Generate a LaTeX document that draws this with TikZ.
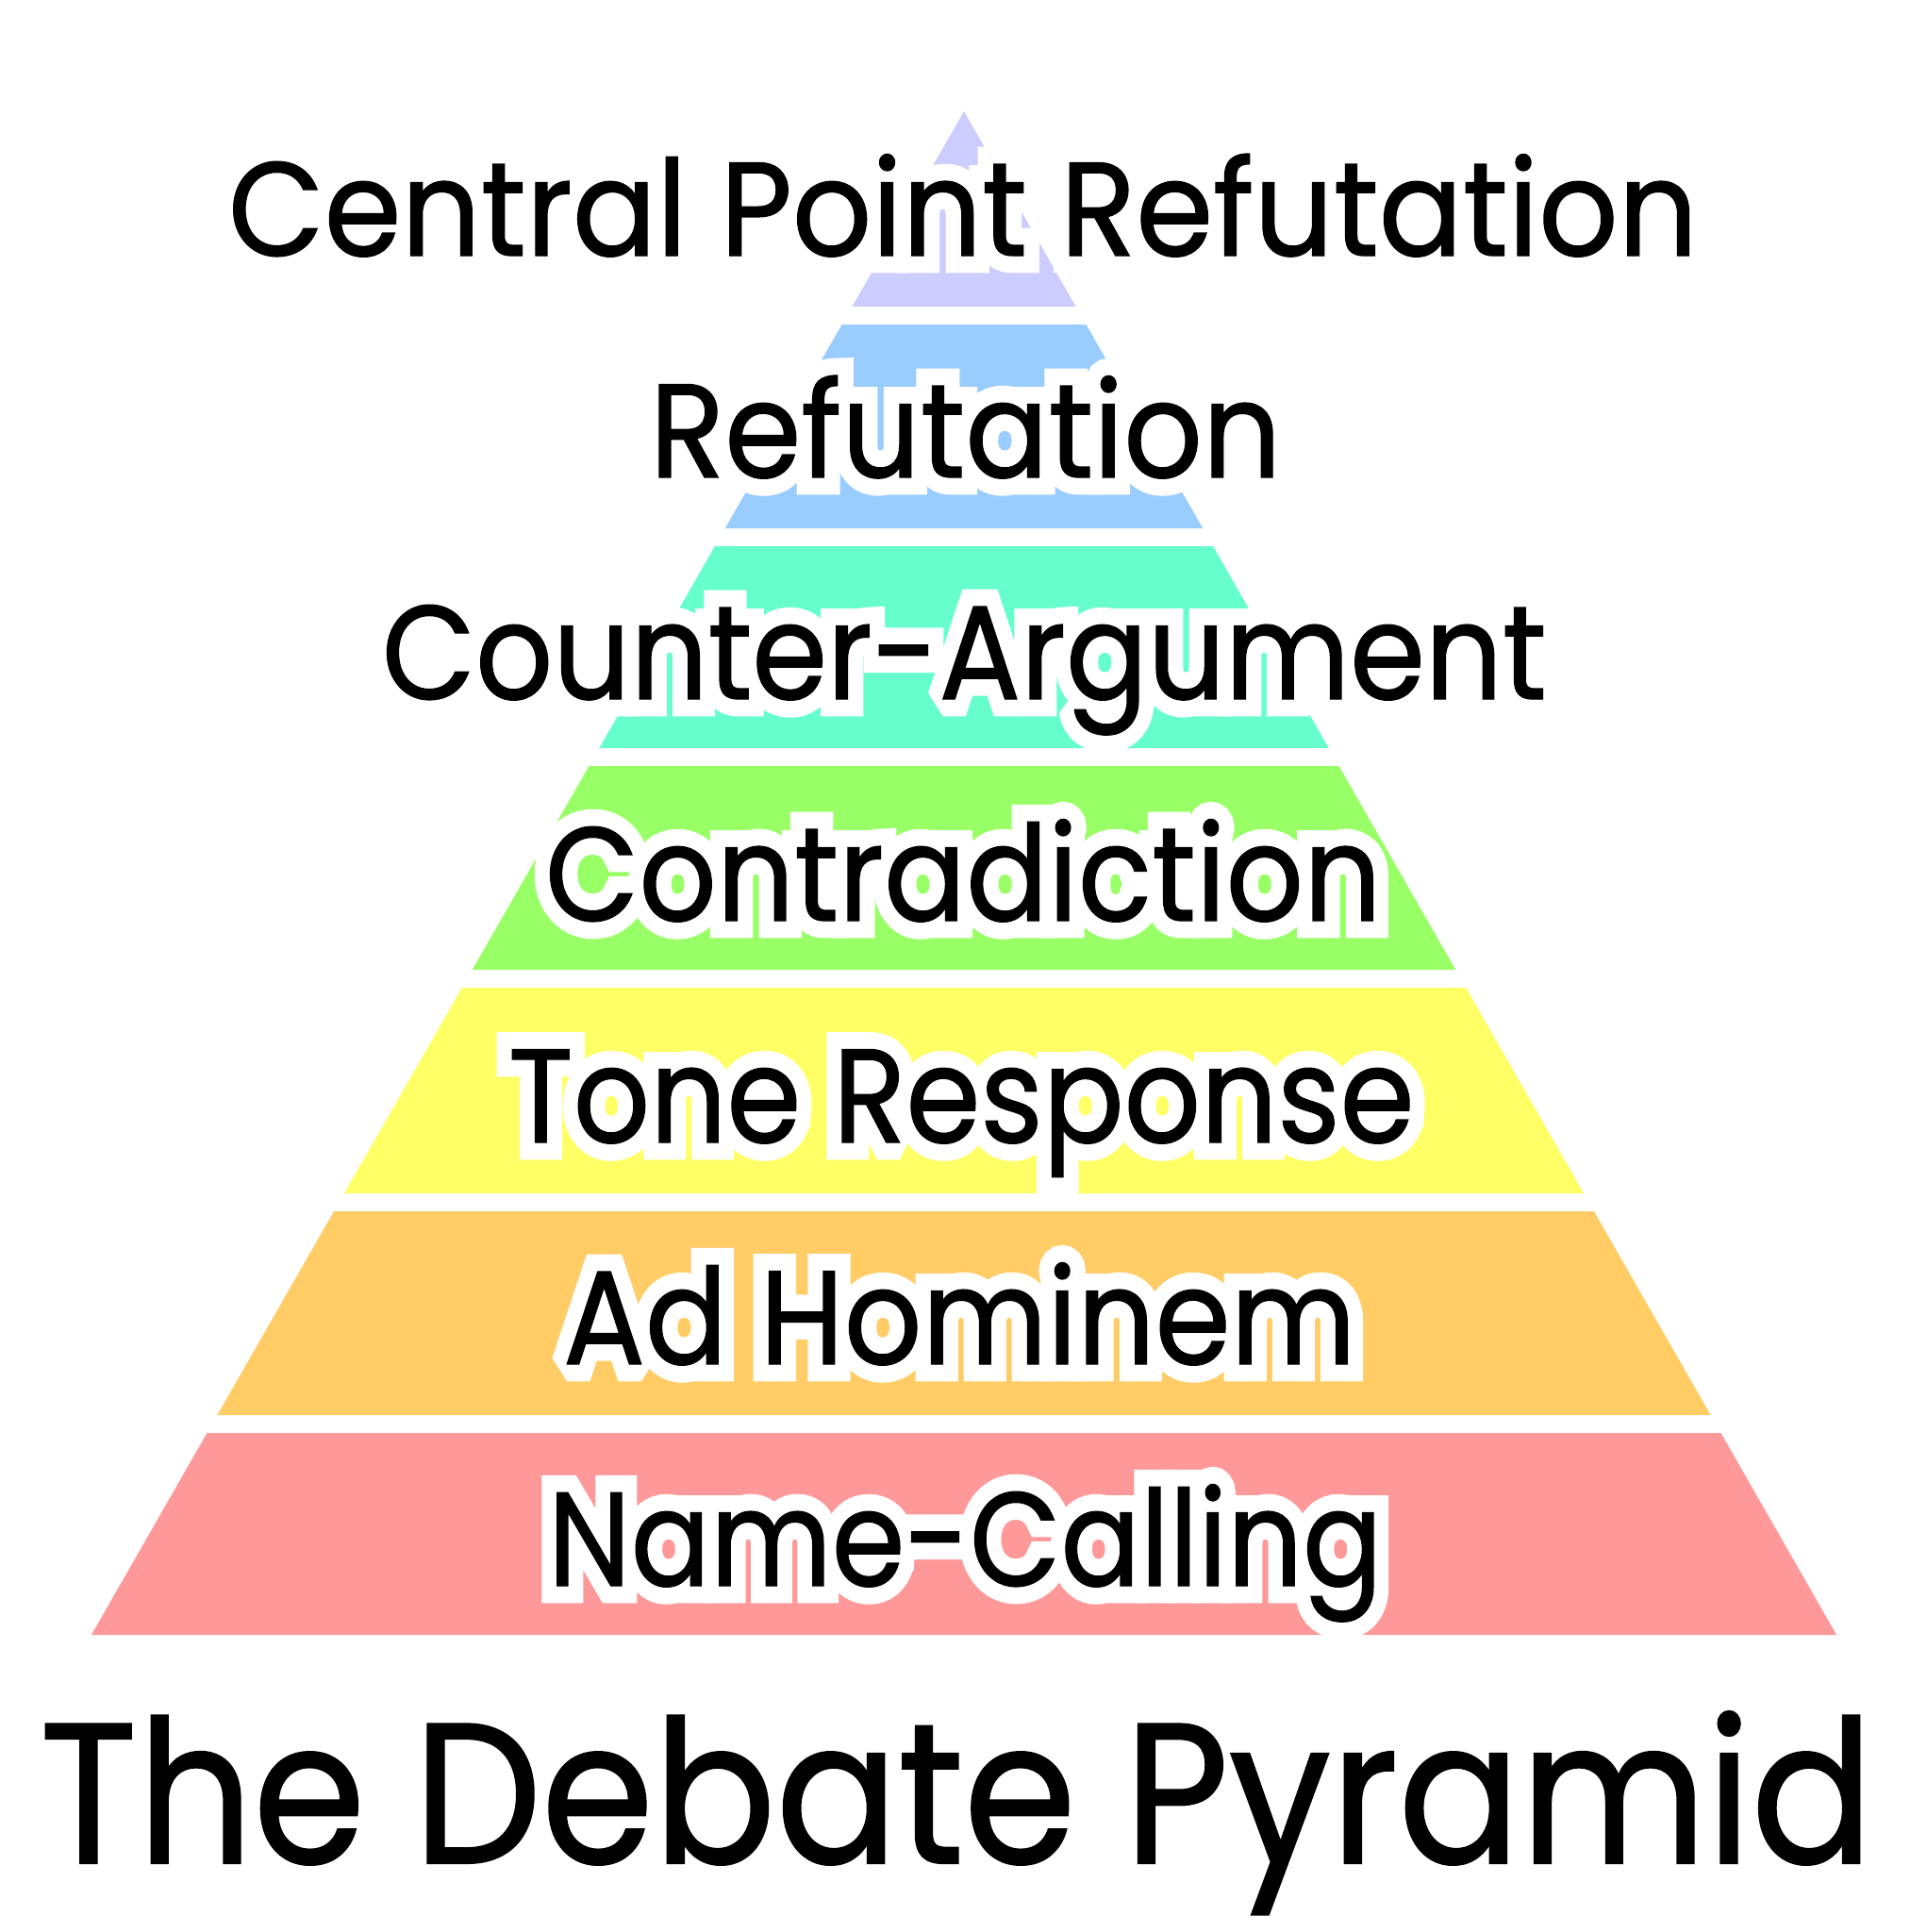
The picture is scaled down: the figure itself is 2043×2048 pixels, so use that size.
\documentclass[tikz,border=0pt]{standalone}
\usepackage{fontspec}
\setmainfont{Poppins}[FakeBold=1]
\newfontfamily\halofont{Poppins}[FakeBold=26]
\usepackage{graphicx}
\definecolor{lavender}{HTML}{CCCCFF}
\definecolor{skyblue}{HTML}{99CCFF}
\definecolor{aqua}{HTML}{66FFCC}
\definecolor{lightgreen}{HTML}{99FF66}
\definecolor{lightyellow}{HTML}{FFFF66}
\definecolor{lightorange}{HTML}{FFCC66}
\definecolor{lightpink}{HTML}{FF9999}
\newcommand\pyrlabel[5]{%
  \node[halotext] (#1h) at (#2,#3) {\resizebox{#4cm}{\height}{#5}};
  \node[labeltext] (#1) at (#2,#3) {\resizebox{#4cm}{\height}{#5}};
}
\begin{document}
\begin{tikzpicture}[x=0.01cm,y=-0.01cm,
  halotext/.style={anchor=base west,inner sep=0pt,outer sep=0pt,text=white,
    miter limit=1.5,font=\halofont\fontsize{40.2}{48}\selectfont},
  labeltext/.style={anchor=base west,inner sep=0pt,outer sep=0pt,text=black,
    font=\fontsize{40.2}{48}\selectfont},
  titletext/.style={anchor=base west,inner sep=0pt,outer sep=0pt,text=black,
    font=\fontsize{60.2}{70}\selectfont}]
\useasboundingbox (0,0) rectangle (2043,2048);
\fill[white] (0,0) rectangle (2043,2048);
\foreach \t/\b/\c in {118/325/lavender,344/560/skyblue,579/793/aqua,812/1028/lightgreen,1047/1265/lightyellow,1284/1500/lightorange,1519/1733/lightpink}{
  \fill[\c] ({1022-0.5728*(\t-118)},\t) -- ({1022+0.5728*(\t-118)},\t)
     -- ({1022+0.5728*(\b-118)},\b) -- ({1022-0.5728*(\b-118)},\b) -- cycle;
}
\pyrlabel{cpr}{242}{271}{15.57}{Central Point Refutation}
\pyrlabel{ref}{689}{506}{6.69}{Refutation}
\pyrlabel{ca}{405}{741}{12.34}{Counter-Argument}
\pyrlabel{con}{578}{976}{8.86}{Contradiction}
\pyrlabel{tone}{539}{1211}{9.60}{Tone Response}
\pyrlabel{ad}{597}{1446}{8.40}{Ad Hominem}
\pyrlabel{nc}{581}{1681}{8.84}{Name-Calling}
\node[titletext] (title) at (42,1975) {\resizebox{19.43cm}{\height}{The Debate Pyramid}};
\end{tikzpicture}
\end{document}
